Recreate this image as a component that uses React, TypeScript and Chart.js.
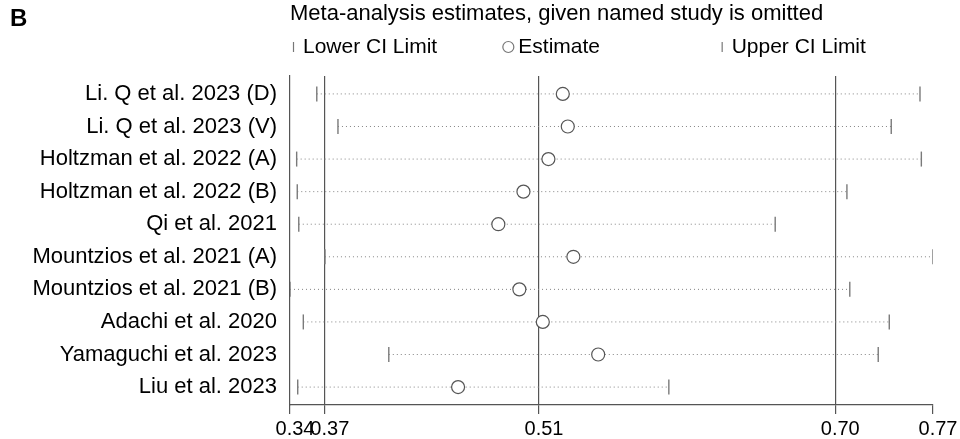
import React, { useEffect, useRef } from "react";
import { Chart, registerables } from "chart.js";

Chart.register(...registerables);

// ---- data ----
const studies = [
  "Li. Q et al. 2023 (D)",
  "Li. Q et al. 2023 (V)",
  "Holtzman et al. 2022 (A)",
  "Holtzman et al. 2022 (B)",
  "Qi et al. 2021",
  "Mountzios et al. 2021 (A)",
  "Mountzios et al. 2021 (B)",
  "Adachi et al. 2020",
  "Yamaguchi et al. 2023",
  "Liu et al. 2023",
];
const lowerCI = [0.3617, 0.3757, 0.3484, 0.3488, 0.3498, 0.3671, 0.344, 0.3528, 0.4093, 0.3491];
const estimate = [0.5243, 0.5276, 0.5148, 0.4983, 0.4817, 0.5313, 0.4956, 0.5111, 0.5477, 0.4551];
const upperCI = [0.7604, 0.7414, 0.7613, 0.7121, 0.6647, 0.769, 0.714, 0.7401, 0.7328, 0.5944];

// axis ticks: min, overall lower CI, overall estimate, overall upper CI, max
const axisTicks = [0.344, 0.367, 0.5086, 0.7044, 0.769];
const axisTickLabels = ["0.34", "0.37", "0.51", "0.70", "0.77"];

const panelLabel = "B";
const titleText = "Meta-analysis estimates, given named study is omitted";
const legendLabels = ["Lower CI Limit", "Estimate", "Upper CI Limit"];

const FONT = '"Liberation Sans", Arial, Helvetica, sans-serif';

const headerPlugin = {
  id: "header",
  afterDraw(chart: any) {
    const { ctx, chartArea } = chart;
    ctx.save();
    ctx.fillStyle = "#000";
    ctx.textBaseline = "middle";
    ctx.textAlign = "left";
    ctx.font = `bold 24px ${FONT}`;
    ctx.fillText(panelLabel, 10, 19);
    ctx.font = `22px ${FONT}`;
    ctx.fillText(titleText, chartArea.left, 14);

    ctx.font = `21px ${FONT}`;
    const colW = (chartArea.right - chartArea.left) / 3;
    const ly = 47;
    legendLabels.forEach((lab, i) => {
      const x0 = chartArea.left + i * colW;
      ctx.strokeStyle = "#777";
      ctx.lineWidth = 1.2;
      if (i === 1) {
        ctx.beginPath();
        ctx.arc(x0 + 4, ly, 5.5, 0, Math.PI * 2);
        ctx.stroke();
        ctx.fillText(lab, x0 + 14, ly);
      } else {
        ctx.beginPath();
        ctx.moveTo(x0 + 3.5, ly - 5);
        ctx.lineTo(x0 + 3.5, ly + 5);
        ctx.stroke();
        ctx.fillText(lab, x0 + 13, ly);
      }
    });
    ctx.restore();
  },
};

export default function App() {
  const ref = useRef<HTMLCanvasElement>(null);

  useEffect(() => {
    document.body.style.margin = "0";
    const canvas = ref.current;
    if (!canvas) return;

    const rowY = (i: number) => i + 1;

    const segmentSets = studies.map((s, i) => ({
      type: "line" as const,
      label: s,
      data: [
        { x: lowerCI[i], y: rowY(i) },
        { x: upperCI[i], y: rowY(i) },
      ],
      borderColor: "#858585",
      borderWidth: 1,
      borderDash: [1, 3],
      pointRadius: 0,
      showLine: true,
      order: 5,
    }));

    const chart = new Chart(canvas, {
      type: "scatter",
      data: {
        datasets: [
          ...segmentSets,
          {
            label: "Lower CI Limit",
            data: lowerCI.map((v, i) => ({ x: v, y: rowY(i) })),
            pointStyle: "line",
            pointRotation: 90,
            pointRadius: 7.5,
            pointBorderColor: "#7a7a7a",
            pointBorderWidth: 1.4,
            order: 3,
          } as any,
          {
            label: "Upper CI Limit",
            data: upperCI.map((v, i) => ({ x: v, y: rowY(i) })),
            pointStyle: "line",
            pointRotation: 90,
            pointRadius: 7.5,
            pointBorderColor: "#7a7a7a",
            pointBorderWidth: 1.4,
            order: 3,
          } as any,
          {
            label: "Estimate",
            data: estimate.map((v, i) => ({ x: v, y: rowY(i) })),
            pointStyle: "circle",
            pointRadius: 6.5,
            pointBackgroundColor: "#ffffff",
            pointBorderColor: "#555",
            pointBorderWidth: 1.2,
            order: 1,
          } as any,
        ],
      },
      options: {
        responsive: false,
        animation: false,
        events: [],
        layout: { padding: { top: 76, right: 27, left: 0, bottom: 0 } },
        plugins: {
          legend: { display: false },
          title: { display: false },
          tooltip: { enabled: false },
        },
        scales: {
          x: {
            type: "linear",
            min: axisTicks[0],
            max: axisTicks[axisTicks.length - 1],
            afterBuildTicks: (s: any) => {
              s.ticks = axisTicks.map((v) => ({ value: v }));
            },
            afterFit: (s: any) => {
              s.height = 34;
            },
            ticks: {
              autoSkip: false,
              maxRotation: 0,
              minRotation: 0,
              labelOffset: 5,
              padding: 3,
              color: "#000",
              font: { family: FONT, size: 20 },
              callback: (_v: any, i: number) => axisTickLabels[i],
            },
            grid: {
              drawOnChartArea: true,
              color: (c: any) =>
                c.index === 0 || c.index === axisTicks.length - 1 ? "rgba(0,0,0,0)" : "#555",
              tickColor: "#555",
              tickLength: 9,
              lineWidth: 1.2,
            },
            border: { display: true, color: "#555", width: 1.2 },
          },
          y: {
            type: "linear",
            min: 0.45,
            max: 10.55,
            reverse: true,
            afterBuildTicks: (s: any) => {
              s.ticks = studies.map((_, i) => ({ value: rowY(i) }));
            },
            afterFit: (s: any) => {
              s.width = 290;
            },
            ticks: {
              autoSkip: false,
              padding: 13,
              color: "#000",
              font: { family: FONT, size: 22 },
              callback: (_v: any, i: number) => studies[i],
            },
            grid: { display: false, drawTicks: false },
            border: { display: true, color: "#555", width: 1.2 },
          },
        },
      } as any,
      plugins: [headerPlugin],
    });

    return () => chart.destroy();
  }, []);

  return (
    <div style={{ width: 960, height: 439 }}>
      <canvas ref={ref} width={960} height={439} style={{ display: "block" }} />
    </div>
  );
}
